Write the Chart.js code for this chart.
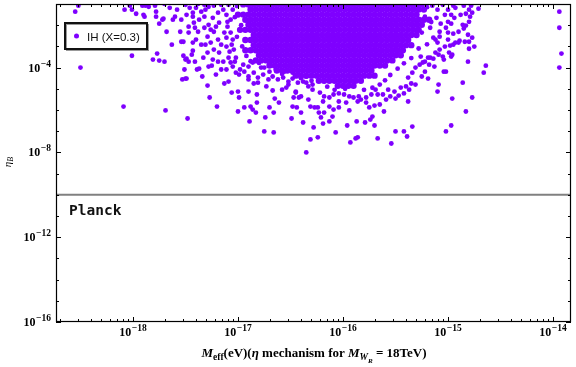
<!DOCTYPE html>
<html>
<head>
<meta charset="utf-8">
<script src="https://cdn.jsdelivr.net/npm/chart.js@4.4.1/dist/chart.umd.min.js"></script>
<style>
  html, body { margin: 0; padding: 0; background: #fff; }
  #wrap { width: 576px; height: 367px; }
</style>
</head>
<body>
<div id="wrap"><canvas id="myChart"></canvas></div>
<script>
// all values are log10 exponents: [log10 Meff, log10 etaB]

// axis ranges
const xRange = [-18.733, -13.829];
const yRange = [-16, -1];
const xLabelExps = [-18, -17, -16, -15, -14];
const yLabelExps = [-16, -12, -8, -4];
const planckLevel = -10;

// the solid core of the cloud, read row by row (log10 eta, then log10 Meff along the row)
const coreLevels = [-1.02, -1.26, -1.50, -1.74, -1.98, -2.22, -2.46, -2.70, -2.94, -3.18, -3.42, -3.66, -3.90, -4.14, -4.38, -4.62, -4.86];
const coreRows = [
  [-16.95,-16.90,-16.85,-16.80,-16.75,-16.70,-16.65,-16.60,-16.55,-16.50,-16.45,-16.40,-16.35,-16.30,-16.25,-16.20,-16.15,-16.10,-16.05,-16.00,-15.95,-15.90,-15.85,-15.80,-15.75,-15.70,-15.65,-15.60,-15.55,-15.50,-15.45,-15.40,-15.35,-15.30,-15.25],
  [-16.88,-16.83,-16.78,-16.73,-16.68,-16.63,-16.58,-16.53,-16.48,-16.43,-16.38,-16.33,-16.28,-16.23,-16.18,-16.13,-16.08,-16.03,-15.98,-15.93,-15.88,-15.83,-15.78,-15.73,-15.68,-15.63,-15.58,-15.53,-15.48,-15.43,-15.38,-15.33,-15.28,-15.23],
  [-17.00,-16.95,-16.90,-16.85,-16.80,-16.75,-16.70,-16.65,-16.60,-16.55,-16.50,-16.45,-16.40,-16.35,-16.30,-16.25,-16.20,-16.15,-16.10,-16.05,-16.00,-15.95,-15.90,-15.85,-15.80,-15.75,-15.70,-15.65,-15.60,-15.55,-15.50,-15.45,-15.40,-15.35,-15.30],
  [-16.93,-16.88,-16.83,-16.78,-16.73,-16.68,-16.63,-16.58,-16.53,-16.48,-16.43,-16.38,-16.33,-16.28,-16.23,-16.18,-16.13,-16.08,-16.03,-15.98,-15.93,-15.88,-15.83,-15.78,-15.73,-15.68,-15.63,-15.58,-15.53,-15.48,-15.43,-15.38,-15.33,-15.28,-15.23,-15.18],
  [-16.90,-16.85,-16.80,-16.75,-16.70,-16.65,-16.60,-16.55,-16.50,-16.45,-16.40,-16.35,-16.30,-16.25,-16.20,-16.15,-16.10,-16.05,-16.00,-15.95,-15.90,-15.85,-15.80,-15.75,-15.70,-15.65,-15.60,-15.55,-15.50,-15.45,-15.40,-15.35,-15.30,-15.25],
  [-16.98,-16.93,-16.88,-16.83,-16.78,-16.73,-16.68,-16.63,-16.58,-16.53,-16.48,-16.43,-16.38,-16.33,-16.28,-16.23,-16.18,-16.13,-16.08,-16.03,-15.98,-15.93,-15.88,-15.83,-15.78,-15.73,-15.68,-15.63,-15.58,-15.53,-15.48,-15.43,-15.38,-15.33,-15.28],
  [-16.85,-16.80,-16.75,-16.70,-16.65,-16.60,-16.55,-16.50,-16.45,-16.40,-16.35,-16.30,-16.25,-16.20,-16.15,-16.10,-16.05,-16.00,-15.95,-15.90,-15.85,-15.80,-15.75,-15.70,-15.65,-15.60,-15.55,-15.50,-15.45,-15.40,-15.35,-15.30],
  [-16.93,-16.88,-16.83,-16.78,-16.73,-16.68,-16.63,-16.58,-16.53,-16.48,-16.43,-16.38,-16.33,-16.28,-16.23,-16.18,-16.13,-16.08,-16.03,-15.98,-15.93,-15.88,-15.83,-15.78,-15.73,-15.68,-15.63,-15.58,-15.53,-15.48,-15.43,-15.38],
  [-16.85,-16.80,-16.75,-16.70,-16.65,-16.60,-16.55,-16.50,-16.45,-16.40,-16.35,-16.30,-16.25,-16.20,-16.15,-16.10,-16.05,-16.00,-15.95,-15.90,-15.85,-15.80,-15.75,-15.70,-15.65,-15.60,-15.55,-15.50,-15.45,-15.40,-15.35],
  [-16.93,-16.88,-16.83,-16.78,-16.73,-16.68,-16.63,-16.58,-16.53,-16.48,-16.43,-16.38,-16.33,-16.28,-16.23,-16.18,-16.13,-16.08,-16.03,-15.98,-15.93,-15.88,-15.83,-15.78,-15.73,-15.68,-15.63,-15.58,-15.53,-15.48,-15.43],
  [-16.80,-16.75,-16.70,-16.65,-16.60,-16.55,-16.50,-16.45,-16.40,-16.35,-16.30,-16.25,-16.20,-16.15,-16.10,-16.05,-16.00,-15.95,-15.90,-15.85,-15.80,-15.75,-15.70,-15.65,-15.60,-15.55,-15.50,-15.45],
  [-16.83,-16.78,-16.73,-16.68,-16.63,-16.58,-16.53,-16.48,-16.43,-16.38,-16.33,-16.28,-16.23,-16.18,-16.13,-16.08,-16.03,-15.98,-15.93,-15.88,-15.83,-15.78,-15.73,-15.68,-15.63,-15.58,-15.53],
  [-16.70,-16.65,-16.60,-16.55,-16.50,-16.45,-16.40,-16.35,-16.30,-16.25,-16.20,-16.15,-16.10,-16.05,-16.00,-15.95,-15.90,-15.85,-15.80,-15.75,-15.70,-15.65,-15.60],
  [-16.63,-16.58,-16.53,-16.48,-16.43,-16.38,-16.33,-16.28,-16.23,-16.18,-16.13,-16.08,-16.03,-15.98,-15.93,-15.88,-15.83,-15.78,-15.73],
  [-16.45,-16.40,-16.35,-16.30,-16.25,-16.20,-16.15,-16.10,-16.05,-16.00,-15.95,-15.90,-15.85,-15.80,-15.75,-15.70],
  [-16.23,-16.18,-16.13,-16.08,-16.03,-15.98,-15.93,-15.88,-15.83],
  [-16.05,-16.00,-15.95,-15.90]
];

// sparse points on the far left
const leftPts = [
  [-18.52,-1.08],[-18.55,-1.36],[-18.50,-4.00],[-18.09,-5.84],[-17.69,-6.02],[-18.08,-1.27],[-18.03,-1.08],
  [-18.01,-1.27],[-17.97,-1.46],[-17.91,-1.08],[-17.88,-1.08],[-17.85,-1.13],[-17.90,-1.51],[-17.89,-1.60],
  [-18.01,-3.44],[-17.78,-1.36],[-17.78,-1.60],[-17.72,-1.74],[-17.71,-1.69],[-17.75,-1.93],[-17.68,-2.31],
  [-17.63,-2.92],[-17.77,-3.34],[-17.81,-3.62],[-17.75,-3.67],[-17.70,-3.72],[-17.60,-1.60],[-17.62,-1.74],
  [-17.58,-1.27],[-17.54,-1.74],[-17.55,-2.31],[-17.54,-2.78],[-17.52,-2.78],[-17.51,-4.09],[-17.50,-4.52],
  [-17.53,-4.56],[-17.52,-3.44],[-17.49,-3.58],[-17.47,-3.72],[-17.41,-3.72],[-17.37,-4.05],[-17.34,-4.42],
  [-17.29,-4.85],[-17.43,-1.60],[-17.47,-2.07],[-17.50,-3.62],[-17.49,-4.52],[-17.43,-2.82],[-17.43,-3.20],
  [-17.28,-3.95],[-17.27,-5.41],[-17.20,-5.84],[-17.48,-6.40],[-17.13,-4.75],[-17.06,-5.18],
  [-17.65,-1.18],[-17.70,-0.99],[-17.79,-1.08],[-17.50,-1.04],[-17.49,-1.51]
];

// the looser band left of the core
const bandPts = [
  [-17.43,-1.41],[-17.40,-1.18],[-17.35,-1.36],[-17.32,-1.60],[-17.37,-1.74],[-17.42,-1.88],[-17.47,-2.35],
  [-17.38,-2.31],[-17.32,-2.12],[-17.28,-1.98],[-17.24,-1.65],[-17.19,-1.41],[-17.14,-1.27],[-17.11,-1.51],
  [-17.18,-1.88],[-17.23,-2.31],[-17.29,-2.54],[-17.26,-2.82],[-17.19,-2.68],[-17.13,-2.35],[-17.10,-2.07],
  [-17.07,-1.74],[-17.05,-1.27],[-17.09,-1.04],[-17.16,-1.04],[-17.28,-1.13],[-17.32,-1.04],[-17.23,-3.15],
  [-17.18,-3.29],[-17.11,-3.01],[-17.05,-2.68],[-17.04,-3.15],[-17.09,-3.53],[-17.14,-3.72],[-17.19,-3.72],
  [-17.11,-4.09],[-17.16,-4.09],[-17.05,-3.95],[-17.02,-4.24],[-17.29,-3.29],[-17.33,-3.53],[-17.24,-3.62],
  [-17.40,-2.68],[-17.31,-2.92],[-17.21,-2.07],[-17.07,-2.35],[-17.11,-2.59],[-17.02,-3.53],[-17.07,-3.76],
  [-16.98,-4.09],
  [-17.46,-1.18],[-17.38,-0.99],[-17.31,-1.27],[-17.23,-1.08],[-17.10,-1.84],[-17.26,-2.21],[-17.16,-2.92],
  [-17.08,-3.25],[-17.35,-2.92],[-17.44,-3.39],[-17.25,-3.91],[-17.03,-3.72],[-17.39,-4.09],[-17.21,-4.33],
  [-17.09,-4.66],[-17.06,-2.92],[-17.41,-2.12],
  [-17.01,-1.10],[-17.03,-1.62],[-16.97,-2.00],[-17.01,-2.55],[-16.96,-3.00],[-16.92,-3.45],[-16.88,-3.70],
  [-16.80,-3.78],[-16.75,-4.00]
];

// points under the core
const lowerPts = [
  [-17.00,-5.13],[-16.99,-5.41],[-16.90,-5.13],[-16.85,-4.75],[-16.81,-4.71],[-16.82,-5.27],[-16.82,-5.65],
  [-16.88,-5.84],[-16.86,-5.98],[-16.94,-5.88],[-17.00,-6.07],[-16.89,-6.54],[-16.83,-6.12],[-16.74,-6.35],
  [-16.70,-5.88],[-16.66,-6.12],[-16.65,-5.46],[-16.67,-5.08],[-16.61,-5.65],[-16.58,-5.04],[-16.54,-4.94],
  [-16.52,-4.80],[-16.75,-7.01],[-16.66,-7.06],[-16.49,-6.40],[-16.48,-5.84],[-16.44,-5.88],[-16.45,-5.13],
  [-16.42,-5.41],[-16.40,-6.12],[-16.38,-6.59],[-16.35,-8.00],[-16.31,-7.39],[-16.28,-6.82],[-16.27,-5.88],
  [-16.31,-5.84],[-16.29,-5.04],[-16.33,-5.51],[-16.35,-4.71],
  [-16.99,-4.33],[-16.94,-4.19],[-16.90,-4.42],[-16.85,-4.24],[-16.81,-4.47],[-16.76,-4.33],[-16.71,-4.56],
  [-16.67,-4.42],[-16.62,-4.56],[-16.57,-4.47],[-16.52,-4.66],[-16.48,-4.52],[-16.43,-4.71],[-16.38,-4.66],
  [-16.33,-4.89],[-16.29,-4.80],[-16.95,-3.86],[-16.90,-3.95],[-16.86,-3.76],[-16.78,-4.00],[-16.70,-4.19],
  [-16.64,-4.09],[-16.56,-4.19],[-16.48,-4.24],[-16.42,-4.33],[-16.35,-4.42],[-16.90,-4.56],[-16.73,-4.89],
  [-16.45,-5.18],[-16.47,-5.41],[-16.40,-5.36],
  [-16.24,-5.88],[-16.19,-5.60],[-16.23,-6.12],[-16.18,-6.12],[-16.21,-6.35],[-16.19,-6.64],[-16.13,-6.54],
  [-16.10,-6.31],[-16.13,-5.84],[-16.09,-5.98],[-16.04,-5.88],[-16.04,-5.60],[-15.97,-5.65],[-15.94,-6.02],
  [-15.96,-6.73],[-16.07,-7.06],[-16.24,-7.29],[-15.93,-7.53],[-15.88,-7.34],[-15.86,-7.29],[-15.87,-6.54],
  [-15.79,-6.59],[-15.74,-6.45],[-15.72,-6.31],[-15.70,-6.73],[-15.75,-5.88],[-15.70,-5.79],[-15.65,-5.74],
  [-15.61,-6.07],[-15.67,-7.34],[-15.54,-7.58],[-15.50,-7.01],[-15.42,-7.01],[-15.39,-7.25],[-15.34,-6.78],
  [-15.38,-5.60],[-15.86,-5.60],[-15.83,-5.51],[-15.78,-5.65],[-15.59,-5.51],[-15.55,-5.36],[-15.50,-5.46],
  [-15.47,-5.32],[-15.42,-5.22],[-15.37,-5.04],[-15.31,-4.80],[-15.35,-4.75],[-15.40,-4.89],[-15.45,-4.94],
  [-15.51,-5.13],[-15.57,-5.04],[-15.62,-5.27],[-15.67,-5.27],[-15.69,-5.04],[-15.73,-5.27],[-15.78,-5.41],
  [-15.85,-5.36],[-15.90,-5.41],[-15.94,-5.36],[-15.99,-5.27],[-16.04,-5.22],[-16.09,-5.27],[-16.13,-5.41],
  [-16.18,-5.36],[-16.22,-5.18],
  [-16.58,-4.30],[-16.40,-4.50],[-16.30,-4.62],[-16.15,-4.90],[-16.08,-5.05],[-15.98,-5.00],[-15.80,-5.05],
  [-15.72,-4.95],[-15.65,-4.80],[-15.60,-4.60],[-15.55,-4.35]
];

// points right of the core
const rightPts = [
  [-15.25,-4.42],[-15.19,-4.52],[-15.10,-5.13],[-15.09,-4.80],[-15.13,-3.95],[-15.18,-3.86],[-15.22,-4.19],
  [-15.24,-3.76],[-15.26,-3.48],[-15.19,-3.53],[-15.14,-3.58],[-15.09,-3.39],[-15.05,-3.48],[-15.04,-3.62],
  [-15.04,-4.19],[-15.34,-4.24],[-15.38,-4.47],[-14.96,-3.39],[-14.95,-2.92],[-14.90,-2.82],[-15.03,-3.01],
  [-15.08,-3.15],[-15.12,-3.29],[-15.17,-3.53],[-15.22,-3.72],[-15.27,-3.86],[-15.31,-4.00],[-15.10,-2.82],
  [-15.08,-2.54],[-15.14,-2.59],[-15.15,-1.08],[-15.10,-1.27],[-15.05,-1.04],[-15.11,-1.65],[-15.07,-1.93],
  [-15.17,-2.12],[-15.03,-1.51],[-15.08,-2.31],[-15.12,-2.68],
  [-14.95,-1.08],[-14.93,-1.18],[-14.85,-1.08],[-14.78,-1.08],[-14.71,-1.22],[-14.80,-1.27],[-14.77,-1.41],
  [-14.83,-1.46],[-14.88,-1.51],[-14.97,-1.51],[-15.00,-1.27],[-14.94,-1.65],[-14.79,-1.60],[-14.80,-1.84],
  [-14.83,-2.02],[-14.86,-1.98],[-14.85,-2.16],[-14.90,-2.31],[-14.95,-2.40],[-15.00,-2.35],[-15.02,-2.12],
  [-14.97,-1.93],[-15.00,-1.84],[-15.00,-2.68],[-14.98,-2.96],[-14.93,-2.82],[-14.89,-2.73],[-14.84,-2.78],
  [-14.80,-2.78],[-14.77,-2.59],[-14.81,-2.45],[-14.80,-3.11],[-14.75,-3.01],[-14.99,-3.29],[-14.97,-3.48],
  [-14.81,-3.72],[-14.64,-3.91],[-14.66,-4.24],[-15.02,-4.19],[-14.86,-4.71],[-14.96,-5.46],[-14.77,-5.41],
  [-14.83,-6.07],[-14.97,-6.73],[-15.02,-7.01],
  [-15.20,-1.15],[-15.22,-1.60],[-15.16,-1.85],[-15.25,-2.35],[-15.20,-2.90],[-15.28,-3.10],[-15.35,-3.55],
  [-15.42,-3.80],[-15.48,-4.05]
];

// isolated points near the right edge
const farPts = [[-13.94,-1.36],[-13.94,-2.12],[-13.92,-3.34],[-13.94,-4.00]];

const purple = '#7f00ff';

const corePts = [];
coreRows.forEach((row, i) => row.forEach(lx => corePts.push({x: 10 ** lx, y: 10 ** coreLevels[i]})));
const loosePts = [];
[leftPts, bandPts, lowerPts, rightPts, farPts].forEach(list =>
  list.forEach(p => loosePts.push({x: 10 ** p[0], y: 10 ** p[1]})));

// superscript power label 10^exp
function powLabel(ctx, exp, x, y, align) {
  const big = 'bold 12px "Liberation Serif", "Times New Roman", serif';
  const small = 'bold 9.5px "Liberation Serif", "Times New Roman", serif';
  const sup = '\u2212' + Math.abs(exp);
  ctx.font = big;
  const w1 = ctx.measureText('10').width;
  ctx.font = small;
  const w2 = ctx.measureText(sup).width;
  let x0 = x;
  if (align === 'center') x0 = x - (w1 + w2 + 0.5) / 2;
  if (align === 'right') x0 = x - (w1 + w2 + 0.5);
  ctx.textAlign = 'left';
  ctx.textBaseline = 'alphabetic';
  ctx.font = big;
  ctx.fillText('10', x0, y);
  ctx.font = small;
  ctx.fillText(sup, x0 + w1 + 0.5, y - 5);
}

// draw a run of [text, font, dy] pieces centred on cx
function drawRuns(ctx, runs, cx, y) {
  let total = 0;
  runs.forEach(r => { ctx.font = r[1]; total += ctx.measureText(r[0]).width; });
  let x = cx - total / 2;
  ctx.textAlign = 'left';
  runs.forEach(r => {
    ctx.font = r[1];
    ctx.fillText(r[0], x, y + r[2]);
    x += ctx.measureText(r[0]).width;
  });
}

const framePlugin = {
  id: 'framePlugin',
  afterDatasetsDraw(chart) {
    const {ctx, chartArea: a, scales: {x, y}} = chart;
    ctx.save();

    // Planck label
    ctx.fillStyle = '#111';
    ctx.font = 'bold 14.5px "DejaVu Sans Mono", monospace';
    ctx.textAlign = 'left';
    ctx.textBaseline = 'alphabetic';
    ctx.fillText('Planck', 69, 215);

    // legend box
    ctx.fillStyle = '#fff';
    ctx.fillRect(65, 23, 83, 27);
    ctx.strokeStyle = '#999';
    ctx.lineWidth = 1;
    ctx.strokeRect(66.5, 24.5, 82, 26);
    ctx.strokeStyle = '#111';
    ctx.lineWidth = 2;
    ctx.strokeRect(65, 23, 82, 26);
    ctx.fillStyle = purple;
    ctx.beginPath();
    ctx.arc(76.5, 36, 2.5, 0, Math.PI * 2);
    ctx.fill();
    ctx.fillStyle = '#111';
    ctx.font = '11.5px "Liberation Sans", Arial, sans-serif';
    ctx.fillText('IH (X=0.3)', 87, 40.5);

    // frame
    ctx.strokeStyle = '#000';
    ctx.lineWidth = 1.2;
    ctx.strokeRect(a.left + 0.5, a.top + 0.5, a.right - a.left - 1, a.bottom - a.top - 1);

    // x ticks, all inward, bottom and top
    ctx.lineWidth = 1;
    ctx.beginPath();
    for (let e = -19; e <= -14; e++) {
      for (let m = 1; m <= 9; m++) {
        const v = m * 10 ** e;
        if (v < 10 ** xRange[0] || v > 10 ** xRange[1]) continue;
        const px = Math.round(x.getPixelForValue(v)) + 0.5;
        const len = m === 1 ? 5 : 3;
        ctx.moveTo(px, a.bottom); ctx.lineTo(px, a.bottom - len);
        ctx.moveTo(px, a.top); ctx.lineTo(px, a.top + len);
      }
    }
    // y ticks, every decade
    for (let e = yRange[0]; e <= yRange[1]; e++) {
      const py = Math.round(y.getPixelForValue(10 ** e)) + 0.5;
      const len = e % 4 === 0 ? 5 : 3;
      ctx.moveTo(a.left, py); ctx.lineTo(a.left + len, py);
      ctx.moveTo(a.right, py); ctx.lineTo(a.right - len, py);
    }
    ctx.stroke();

    // tick labels
    ctx.fillStyle = '#000';
    xLabelExps.forEach(e => powLabel(ctx, e, x.getPixelForValue(10 ** e), a.bottom + 14, 'center'));
    yLabelExps.forEach(e => powLabel(ctx, e, a.left - 5, y.getPixelForValue(10 ** e) + 4, 'right'));

    // x axis title
    const bi = 'italic bold 13px "Liberation Serif", serif';
    const b = 'bold 13px "Liberation Serif", serif';
    const sb = 'bold 9.5px "Liberation Serif", serif';
    const si = 'italic bold 9.5px "Liberation Serif", serif';
    const ssi = 'italic bold 7px "Liberation Serif", serif';
    drawRuns(ctx, [
      ['M', bi, 0], ['eff', sb, 3], ['(eV)(', b, 0], ['\u03b7', bi, 0], [' mechanism for ', b, 0],
      ['M', bi, 0], ['W', si, 3], ['R', ssi, 6], [' = 18TeV)', b, 0]
    ], (a.left + a.right) / 2 + 0.5, 357);

    // y axis title
    ctx.translate(11, 162);
    ctx.rotate(-Math.PI / 2);
    drawRuns(ctx, [['\u03b7', 'italic 11px "Liberation Serif", serif', 0], ['B', 'italic 8px "Liberation Serif", serif', 2]], 0, 0);
    ctx.restore();
  }
};

new Chart('myChart', {
  type: 'scatter',
  data: {
    datasets: [{
      data: corePts,
      backgroundColor: purple,
      borderWidth: 0,
      pointRadius: 3.2,
      pointHoverRadius: 3.2
    }, {
      data: loosePts,
      backgroundColor: purple,
      borderWidth: 0,
      pointRadius: 2.4,
      pointHoverRadius: 2.4
    }, {
      type: 'line',
      data: [{x: 10 ** xRange[0], y: 10 ** planckLevel}, {x: 10 ** xRange[1], y: 10 ** planckLevel}],
      borderColor: '#808080',
      borderWidth: 2,
      pointRadius: 0
    }]
  },
  options: {
    responsive: true,
    maintainAspectRatio: false,
    animation: false,
    devicePixelRatio: 1,
    layout: {padding: {left: 56, right: 5, top: 4, bottom: 45}},
    plugins: {legend: {display: false}, tooltip: {enabled: false}},
    scales: {
      x: {type: 'logarithmic', display: false, min: 10 ** xRange[0], max: 10 ** xRange[1]},
      y: {type: 'logarithmic', display: false, min: 10 ** yRange[0], max: 10 ** yRange[1]}
    }
  },
  plugins: [framePlugin]
});
</script>
</body>
</html>
